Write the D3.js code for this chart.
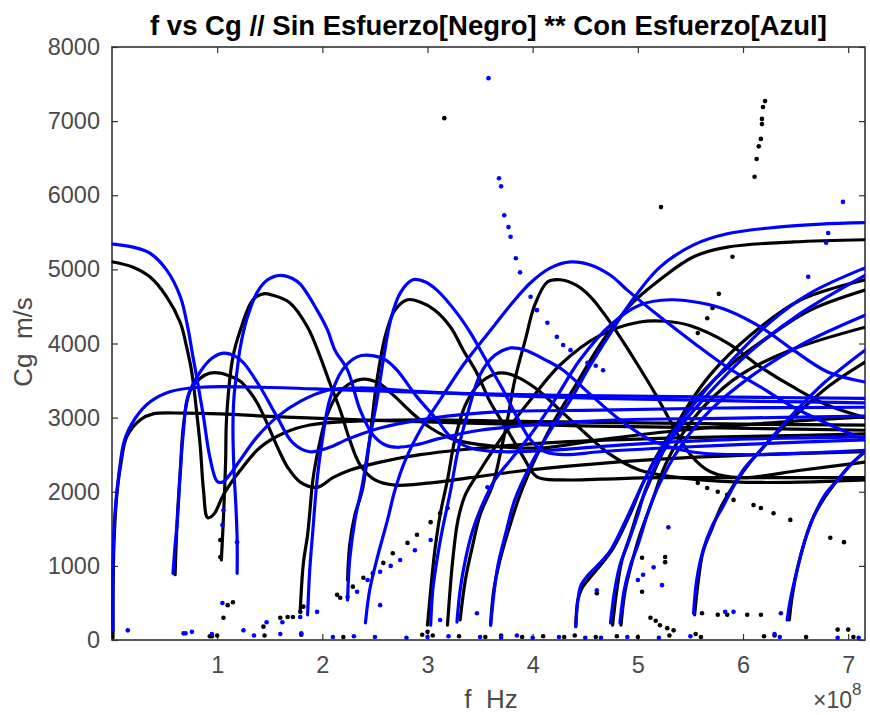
<!DOCTYPE html>
<html><head><meta charset="utf-8">
<script src="https://cdn.jsdelivr.net/npm/d3@7"></script>
<style>body{margin:0;background:#fff} text{font-family:"Liberation Sans",Arial,Helvetica,sans-serif}</style>
</head><body><svg id="c" width="870" height="715"></svg>
<script>
// frequency in units of 1e8 Hz, group velocity Cg in m/s
const xTicks = [1,2,3,4,5,6,7];
const yTicks = [0,1000,2000,3000,4000,5000,6000,7000,8000];

// ---- Sin Esfuerzo (black) ----
const kS0 = [[0.01,5100],[0.20,5030],[0.36,4900],[0.52,4630],[0.65,4280],[0.71,3950],[0.76,3600],[0.81,3010],[0.84,2600],[0.87,2020],[0.91,1650],[0.97,1700],[1.06,1960],[1.22,2290],[1.41,2600],[1.63,2790],[1.88,2900],[2.26,2950],[2.93,2970],[3.88,2950],[5.02,2930],[6.17,2910],[7.16,2900]];
const kA0 = [[0.01,30],[0.01,540],[0.02,1350],[0.05,2020],[0.09,2430],[0.14,2740],[0.27,2970],[0.39,3050],[0.68,3060],[1.03,3050],[1.60,3010],[2.36,2970],[3.31,2930],[4.45,2890],[5.79,2860],[7.16,2830]];
const kA1 = [[0.60,880],[0.62,1620],[0.65,2290],[0.68,2900],[0.74,3350],[0.84,3530],[0.93,3600],[1.03,3600],[1.12,3560],[1.22,3490],[1.31,3350],[1.38,3200],[1.46,2970],[1.53,2740],[1.60,2520],[1.67,2330],[1.79,2130],[1.95,2060],[2.10,2190],[2.26,2290],[2.55,2400],[2.93,2500],[3.50,2590],[4.26,2670],[5.21,2720],[6.17,2750],[7.16,2780]];
const kS1 = [[1.04,1080],[1.06,1660],[1.08,2390],[1.09,3010],[1.15,3820],[1.22,4180],[1.34,4590],[1.44,4670],[1.53,4650],[1.69,4550],[1.86,4220],[1.98,3820],[2.07,3470],[2.17,3100],[2.26,2700],[2.36,2360],[2.50,2160],[2.69,2090],[3.03,2120],[3.41,2190],[3.88,2280],[4.45,2360],[5.21,2440],[6.17,2500],[7.16,2540]];
const kA2 = [[1.79,400],[1.82,1040],[1.86,1420],[1.88,1710],[1.91,2160],[1.96,2560],[2.03,2970],[2.12,3260],[2.25,3450],[2.39,3520],[2.53,3470],[2.67,3310],[2.84,3080],[3.03,2860],[3.26,2700],[3.60,2620],[4.07,2590],[4.64,2700],[5.40,2830],[6.36,2940],[7.16,3010]];
const kS2 = [[2.24,810],[2.26,1280],[2.31,1690],[2.38,2020],[2.45,2700],[2.52,3510],[2.60,4110],[2.69,4450],[2.81,4590],[2.93,4560],[3.07,4450],[3.22,4220],[3.34,3910],[3.47,3600],[3.60,3200],[3.76,2830],[3.91,2470],[4.04,2200],[4.29,2160],[4.64,2170],[5.21,2190],[5.98,2190],[7.16,2190]];
const kA3 = [[3.00,200],[3.03,670],[3.07,1210],[3.12,1690],[3.19,2160],[3.26,2700],[3.36,3170],[3.48,3440],[3.64,3590],[3.74,3600],[3.88,3530],[4.07,3350],[4.26,3100],[4.50,2790],[4.74,2500],[5.02,2290],[5.40,2190],[5.98,2130],[6.55,2130],[7.16,2160]];
const kS3 = [[3.19,200],[3.24,1080],[3.29,1620],[3.36,1960],[3.50,2290],[3.69,2700],[3.98,3240],[4.26,3710],[4.64,4110],[5.02,4290],[5.26,4300],[5.50,4240],[5.85,4010],[6.17,3680],[6.48,3410],[6.80,3170],[7.16,3000]];
const kS4 = [[3.31,270],[3.36,810],[3.43,1280],[3.50,1690],[3.62,2090],[3.69,2500],[3.76,2970],[3.83,3510],[3.93,4050],[4.02,4520],[4.14,4830],[4.26,4860],[4.41,4790],[4.55,4630],[4.69,4380],[4.83,4090],[5.00,3710],[5.17,3310],[5.33,2900],[5.50,2500],[5.69,2270],[5.98,2190],[6.55,2290],[7.16,2400]];
const kTop = [[3.60,200],[3.63,670],[3.69,1080],[3.77,1480],[3.88,1960],[4.02,2430],[4.21,2970],[4.41,3440],[4.64,3980],[4.93,4520],[5.21,4860],[5.53,5170],[5.85,5300],[6.48,5370],[7.16,5400]];
const kA4 = [[4.41,180],[4.43,540],[4.47,700],[4.55,850],[4.64,1000],[4.77,1250],[4.93,1710],[5.05,2120],[5.21,2560],[5.40,2970],[5.59,3310],[5.88,3710],[6.26,4110],[6.64,4450],[7.16,4720]];
const kS5 = [[4.76,200],[4.80,670],[4.85,1080],[4.93,1420],[5.02,1820],[5.12,2160],[5.26,2600],[5.45,3100],[5.69,3580],[6.07,4110],[6.55,4590],[7.16,4860]];
const kA5 = [[4.84,200],[4.88,670],[4.95,1080],[5.02,1420],[5.14,1890],[5.26,2360],[5.42,2770],[5.64,3170],[5.98,3580],[6.45,3910],[7.16,4220]];
const kA6 = [[5.54,340],[5.57,740],[5.62,1190],[5.71,1520],[5.80,1820],[6.00,2270],[6.21,2630],[6.55,3100],[6.83,3440],[7.16,3750]];
const kS6 = [[6.44,270],[6.47,610],[6.52,980],[6.59,1350],[6.67,1660],[6.78,1930],[6.90,2160],[7.04,2390],[7.16,2540]];
const blackCurves = [kS0,kA0,kA1,kS1,kA2,kS2,kA3,kS3,kS4,kTop,kA4,kS5,kA5,kA6,kS6];

const blackDots = [[3.16,7040],[5.22,5840],[6.11,6250],[6.13,6490],[6.15,6660],[6.17,6760],[6.18,6960],[6.18,7030],[6.19,7190],[6.21,7270],
 [5.90,5170],[5.77,4670],[5.71,4480],[5.66,4340],[5.57,4140],
 [2.14,610],[2.17,570],[2.29,720],[2.39,840],[2.48,900],[2.58,1040],[2.67,1170],[2.81,1310],[2.90,1420],[3.03,1590],[3.12,1710],[3.19,1780],
 [5.57,2120],[5.66,2050],[5.76,2000],[5.85,1960],[5.91,1890],[6.10,1820],[6.17,1780],[6.29,1710],[6.45,1620],[6.83,1380],[6.96,1320],
 [5.12,300],[5.17,260],[5.21,200],[5.28,160],[5.34,130],
 [5.04,1110],[5.26,1120],[5.26,1050],[5.04,650],[4.61,630],[5.61,360],[5.76,340],[5.85,340],[6.04,340],[6.17,340],
 [1.03,1350],[1.03,1120],[1.06,300],[1.10,470],[1.15,510],[1.44,180],[1.60,300],[1.67,310],[1.72,310],[1.79,380],[1.82,450],[0.93,50],
 [0.95,50],[1.00,60],[1.45,60],[1.80,70],[2.20,40],[2.95,70],[3.00,110],[3.05,60],[3.30,50],[3.55,40],[3.70,60],[3.90,40],[4.10,50],[4.30,40],[4.40,60],[4.60,40],[4.80,50],[5.00,40],[5.30,60],[5.55,80],[5.60,40],[6.20,50],[6.30,60],[6.60,40],[6.90,140],[7.00,140],[7.05,40]];

// ---- Con Esfuerzo (blue) ----
const bS0 = [[0.01,5340],[0.20,5300],[0.36,5220],[0.52,4990],[0.65,4630],[0.72,4220],[0.77,3820],[0.81,3510],[0.87,3010],[0.93,2470],[1.00,2140],[1.05,2130],[1.12,2230],[1.22,2430],[1.38,2740],[1.57,3010],[1.79,3220],[2.05,3370],[2.36,3400],[2.93,3350],[3.88,3290],[5.02,3250],[6.17,3220],[7.16,3200]];
const bA0 = [[0.01,130],[0.01,1080],[0.03,1750],[0.07,2290],[0.12,2700],[0.22,2990],[0.36,3210],[0.55,3350],[0.84,3410],[1.41,3410],[2.26,3370],[3.22,3330],[4.26,3300],[5.59,3280],[7.16,3260]];
const bA1 = [[0.58,900],[0.60,1280],[0.62,1580],[0.65,2290],[0.68,2830],[0.72,3280],[0.84,3620],[0.95,3800],[1.06,3870],[1.17,3830],[1.25,3740],[1.41,3410],[1.57,3010],[1.72,2660],[1.88,2540],[2.05,2590],[2.26,2720],[2.55,2860],[3.03,2990],[3.69,3080],[4.64,3100],[5.79,3130],[7.16,3140]];
const bS1 = [[1.19,900],[1.19,1350],[1.18,1750],[1.16,2290],[1.15,2830],[1.16,3280],[1.19,3640],[1.22,3950],[1.28,4320],[1.38,4690],[1.48,4860],[1.60,4920],[1.71,4880],[1.79,4800],[1.95,4450],[2.05,4180],[2.12,3910],[2.24,3640],[2.36,3100],[2.48,2770],[2.60,2630],[2.71,2600],[2.88,2630],[3.12,2720],[3.50,2830],[4.07,2910],[4.83,2970],[5.79,2990],[7.16,3020]];
const bA2 = [[1.86,340],[1.88,940],[1.91,1480],[1.95,2160],[2.00,2700],[2.07,3240],[2.19,3640],[2.33,3820],[2.45,3840],[2.60,3780],[2.71,3640],[2.90,3280],[3.09,2970],[3.22,2740],[3.41,2590],[3.69,2540],[4.17,2560],[4.83,2630],[5.79,2700],[7.16,2740]];
const bS2 = [[2.24,540],[2.26,1080],[2.31,1620],[2.38,2090],[2.45,2700],[2.52,3240],[2.58,3780],[2.65,4320],[2.74,4680],[2.86,4860],[2.98,4830],[3.09,4720],[3.28,4410],[3.41,4140],[3.57,3740],[3.72,3370],[3.85,3010],[3.98,2700],[4.12,2540],[4.31,2500],[4.64,2540],[5.40,2600],[6.36,2660],[7.16,2700]];
const bS3 = [[2.41,230],[2.45,670],[2.53,1150],[2.62,1620],[2.69,2020],[2.79,2430],[2.93,2830],[3.12,3240],[3.34,3710],[3.60,4180],[3.79,4520],[3.98,4820],[4.17,5020],[4.36,5100],[4.55,5060],[4.74,4920],[4.90,4720],[5.21,4360],[5.53,4010],[5.85,3680],[6.17,3410],[6.48,3140],[6.83,2900],[7.16,2700]];
const bA3 = [[3.03,200],[3.05,670],[3.09,1080],[3.14,1480],[3.22,2020],[3.29,2560],[3.39,3100],[3.50,3580],[3.64,3840],[3.79,3940],[3.93,3910],[4.12,3780],[4.29,3640],[4.55,3310],[4.83,2970],[5.12,2700],[5.50,2540],[5.98,2500],[6.55,2520],[7.16,2560]];
const bTop = [[3.60,200],[3.63,610],[3.67,1010],[3.74,1420],[3.83,1890],[3.98,2360],[4.17,2830],[4.36,3240],[4.55,3710],[4.74,4140],[4.93,4550],[5.21,5030],[5.53,5330],[5.85,5480],[6.33,5570],[6.74,5610],[7.16,5630]];
const bHump = [[3.28,240],[3.31,670],[3.36,1080],[3.43,1480],[3.52,1820],[3.64,2160],[3.79,2430],[3.98,2770],[4.21,3240],[4.45,3780],[4.74,4250],[5.02,4520],[5.31,4590],[5.59,4550],[5.85,4450],[6.17,4220],[6.48,3910],[6.80,3620],[7.16,3480]];
const bA4 = [[4.41,180],[4.43,540],[4.46,740],[4.53,880],[4.62,1010],[4.74,1210],[4.90,1660],[5.05,2120],[5.21,2540],[5.40,2940],[5.59,3280],[5.88,3750],[6.26,4290],[6.64,4680],[7.16,5020]];
const bS5 = [[4.74,230],[4.78,670],[4.83,1010],[4.90,1280],[5.00,1690],[5.07,2020],[5.21,2470],[5.40,2870],[5.69,3350],[6.07,3890],[6.55,4410],[7.16,4920]];
const bA5 = [[4.83,230],[4.87,670],[4.93,1010],[5.00,1280],[5.09,1690],[5.19,2060],[5.40,2600],[5.69,3100],[6.07,3550],[6.55,3980],[7.16,4380]];
const bA6 = [[5.53,360],[5.56,810],[5.62,1210],[5.71,1550],[5.79,1750],[6.00,2290],[6.17,2560],[6.45,3010],[6.78,3480],[7.16,3910]];
const bS6 = [[6.42,270],[6.45,540],[6.52,980],[6.59,1350],[6.67,1660],[6.78,1960],[6.90,2160],[7.02,2360],[7.16,2540]];
const blueCurves = [bS0,bA0,bA1,bS1,bA2,bS2,bS3,bA3,bTop,bHump,bA4,bS5,bA5,bA6,bS6];

const blueDots = [[3.58,7580],[3.68,6230],[3.70,6120],[3.73,5730],[3.77,5570],[3.79,5440],[3.84,5150],[3.88,4960],[3.98,4630],[4.04,4450],[4.14,4280],[4.23,4090],[4.29,3980],[4.36,3910],[4.52,3740],[4.60,3700],[4.67,3640],
 [6.95,5910],[6.81,5490],[6.79,5360],[6.62,4900],
 [2.24,580],[2.33,650],[2.43,810],[2.55,920],[2.65,1000],[2.74,1080],[2.88,1210],[3.03,1350],
 [0.15,130],[0.68,90],[0.76,110],[1.05,1550],[1.06,1750],[1.05,500],[1.19,1320],[1.25,130],[1.47,240],[1.62,240],[1.79,310],[1.95,380],[2.55,470],[3.12,270],[3.47,360],[3.57,2060],
 [5.29,1520],[5.15,980],[5.23,740],[5.05,880],[5.00,810],[5.83,380],[5.91,380],[6.36,360],[4.61,670],
 [0.70,90],[0.95,80],[1.35,60],[1.60,80],[1.80,90],[2.10,40],[2.30,50],[2.50,40],[2.80,30],[3.00,40],[3.20,50],[3.50,40],[3.70,30],[3.85,60],[4.00,30],[4.25,40],[4.50,30],[4.65,30],[4.90,40],[5.20,30],[5.50,50],[6.30,80],[6.35,40],[6.90,30],[7.10,30]];

const svg = d3.select("#c");
const L = 112, R = 865, T = 47, B = 640;
const x = d3.scaleLinear().domain([0, 7.16]).range([L, R]);
const y = d3.scaleLinear().domain([0, 8000]).range([B, T]);

svg.append("defs").append("clipPath").attr("id","clip")
  .append("rect").attr("x", L-3).attr("y", T).attr("width", R-L+3).attr("height", B-T+3);

const axisColor = "#333";
const labelColor = "#4a4a4a";
function styleAxis(g){
  g.select(".domain").remove();
  g.selectAll(".tick line").attr("stroke", axisColor).attr("stroke-width", 1.2);
  g.selectAll(".tick text").attr("fill", labelColor).style("font-size","23.5px").style("font-family",'"Liberation Sans",Arial,sans-serif');
}
svg.append("g").attr("transform",`translate(0,${B})`)
  .call(d3.axisBottom(x).tickValues(xTicks).tickSizeInner(-6).tickSizeOuter(0).tickPadding(16).tickFormat(d3.format("d")))
  .call(styleAxis);
svg.append("g").attr("transform",`translate(0,${T})`)
  .call(d3.axisTop(x).tickValues(xTicks).tickSizeInner(-6).tickSizeOuter(0).tickFormat(""))
  .call(styleAxis);
svg.append("g").attr("transform",`translate(${L},0)`)
  .call(d3.axisLeft(y).tickValues(yTicks).tickSizeInner(-6).tickSizeOuter(0).tickPadding(12).tickFormat(d3.format("d")))
  .call(styleAxis);
svg.append("g").attr("transform",`translate(${R},0)`)
  .call(d3.axisRight(y).tickValues(yTicks).tickSizeInner(-6).tickSizeOuter(0).tickFormat(""))
  .call(styleAxis);

svg.append("rect").attr("x",L).attr("y",T).attr("width",R-L).attr("height",B-T)
  .attr("fill","none").attr("stroke",axisColor).attr("stroke-width",1.6);

const line = d3.line().x(d=>x(d[0])).y(d=>y(d[1])).curve(d3.curveCatmullRom.alpha(0.5));
const plot = svg.append("g").attr("clip-path","url(#clip)");

function drawCurves(curves, color){
  plot.append("g").selectAll("path").data(curves).join("path")
    .attr("d", line).attr("fill","none").attr("stroke",color)
    .attr("stroke-width",3.2).attr("stroke-linecap","round").attr("stroke-linejoin","round");
}
function drawDots(dots, color){
  plot.append("g").selectAll("circle").data(dots).join("circle")
    .attr("cx", d=>x(d[0])).attr("cy", d=>y(d[1])).attr("r", 2.3).attr("fill", color);
}
drawCurves(blackCurves, "#000");
drawDots(blackDots, "#000");
drawCurves(blueCurves, "#0000ff");
drawDots(blueDots, "#0000ff");

// titles and labels
svg.append("text").attr("x",(L+R)/2).attr("y",35).attr("text-anchor","middle")
  .style("font-size","27.5px").style("font-weight","bold").attr("fill","#000")
  .text("f vs Cg // Sin Esfuerzo[Negro] ** Con Esfuerzo[Azul]");
svg.append("text").attr("x",491).attr("y",708).attr("text-anchor","middle")
  .attr("xml:space","preserve").style("white-space","pre")
  .style("font-size","26px").attr("fill",labelColor).text("f  Hz");
svg.append("text").attr("transform","translate(32,342) rotate(-90)").attr("text-anchor","middle")
  .attr("xml:space","preserve").style("white-space","pre")
  .style("font-size","26px").attr("fill",labelColor).text("Cg  m/s");
const ex = svg.append("text").attr("x",813).attr("y",708).style("font-size","23px").attr("fill",labelColor);
ex.append("tspan").text("×10");
ex.append("tspan").attr("dy",-13).style("font-size","17px").text("8");
</script></body></html>
